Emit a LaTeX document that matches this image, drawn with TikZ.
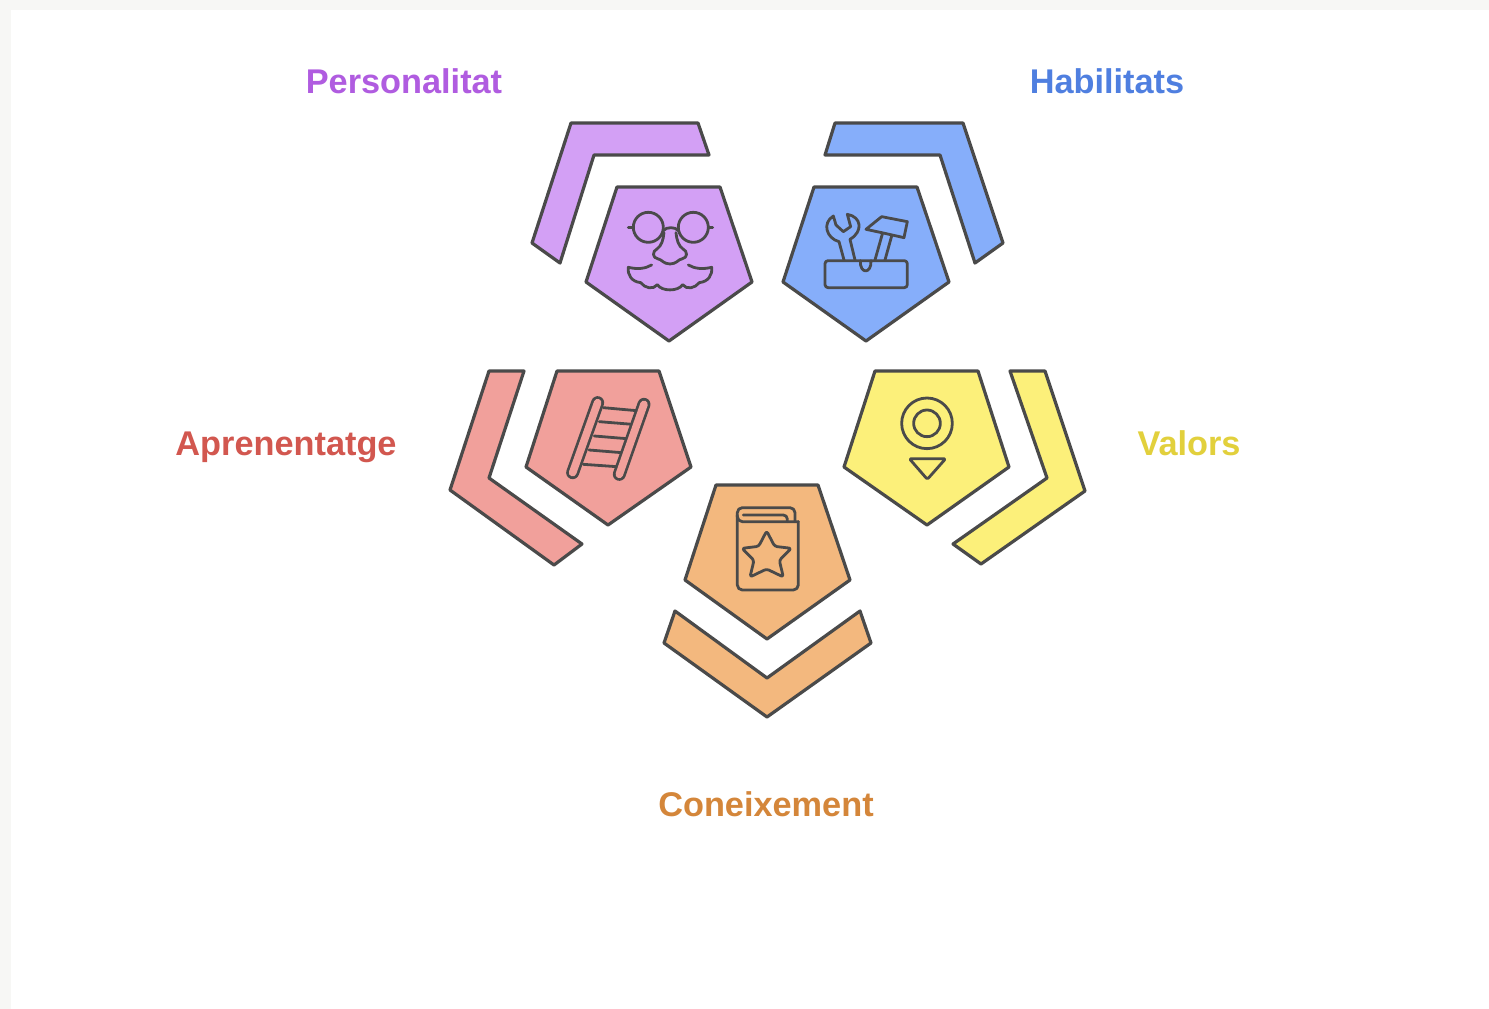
\documentclass[tikz,border=0pt]{standalone}
\usepackage{fontspec}
\setmainfont{Liberation Sans}
\definecolor{ink}{HTML}{4A4A4A}
\definecolor{page}{HTML}{F7F7F5}
\definecolor{cP}{HTML}{D3A0F5}
\definecolor{cB}{HTML}{86AEFA}
\definecolor{cR}{HTML}{F1A09B}
\definecolor{cY}{HTML}{FCF07A}
\definecolor{cO}{HTML}{F3B87E}
\definecolor{tP}{HTML}{B05CE0}
\definecolor{tB}{HTML}{4F7FE0}
\definecolor{tR}{HTML}{D2574F}
\definecolor{tY}{HTML}{E2D03C}
\definecolor{tO}{HTML}{D4863A}
\tikzset{
 shapeline/.style={draw=ink,line width=3.2pt,line join=round},
 iconline/.style={draw=ink,line width=2.8pt,line join=round,line cap=round},
 title/.style={font=\fontsize{34.3}{36}\selectfont\bfseries,inner sep=0pt,anchor=base}
}
\begin{document}
\begin{tikzpicture}[x=1pt,y=-1pt]
\useasboundingbox (0,0) rectangle (1489,1009);
\fill[page] (0,0) rectangle (1489,1009);
\fill[white] (11,10) rectangle (1489,1009);
% purple
\filldraw[shapeline,fill=cP] (571,123)--(698,123)--(709,155)--(594,155)--(560,263)--(532,243)--cycle;
\filldraw[shapeline,fill=cP] (617,187)--(720,187)--(752,282)--(669,341)--(586,282)--cycle;
% blue
\filldraw[shapeline,fill=cB] (835,123)--(963,123)--(1003,243)--(975,263)--(940,155)--(825,155)--cycle;
\filldraw[shapeline,fill=cB] (814,187)--(917,187)--(949,282)--(866,341)--(783,282)--cycle;
% red
\filldraw[shapeline,fill=cR] (489,371)--(524,371)--(489,478)--(582,544)--(554,565)--(450,490)--cycle;
\filldraw[shapeline,fill=cR] (557,371)--(659,371)--(691,467)--(608,525)--(526,467)--cycle;
% yellow
\filldraw[shapeline,fill=cY] (1010,371)--(1045,371)--(1085,491)--(981,564)--(953,544)--(1047,478)--cycle;
\filldraw[shapeline,fill=cY] (875,371)--(978,371)--(1009,467)--(927,525)--(844,467)--cycle;
% orange
\filldraw[shapeline,fill=cO] (675,611)--(767,678)--(860,611)--(871,643)--(767,717)--(664,643)--cycle;
\filldraw[shapeline,fill=cO] (716,485)--(818,485)--(850,580)--(767,639)--(685,580)--cycle;
% glasses icon
\begin{scope}[shift={(520,110)},x=0.3333pt,y=-0.3333pt]
\draw[iconline] (385,352) circle[radius=45pt/3];
\draw[iconline] (520,352) circle[radius=45pt/3];
\draw[iconline] (325,352)--(340,352);
\draw[iconline] (565,352)--(578,352);
\draw[iconline] (430,362) .. controls (438,350) and (467,350) .. (475,362);
\draw[iconline] (432,368) .. controls (430,390) and (424,408) .. (412,416) .. controls (396,424) and (396,444) .. (415,447) .. controls (425,448) and (430,462) .. (450,462) .. controls (470,462) and (475,448) .. (485,447) .. controls (504,444) and (504,424) .. (488,416) .. controls (476,408) and (470,390) .. (468,368);
\draw[iconline] (395,465) .. controls (375,477) and (350,478) .. (325,472) .. controls (322,495) and (335,515) .. (362,518) .. controls (375,535) and (400,540) .. (412,524) .. controls (425,545) and (475,545) .. (488,524) .. controls (500,540) and (525,535) .. (538,518) .. controls (565,515) and (578,495) .. (575,472) .. controls (550,478) and (525,477) .. (505,465);
\end{scope}
% toolbox icon
\begin{scope}[shift={(770,110)},x=0.3333pt,y=-0.3333pt]
\draw[iconline,rounded corners=3pt] (165,452) rectangle (412,533);
\draw[iconline] (271,452) .. controls (269,493) and (305,493) .. (303,452);
\draw[iconline] (315,450)--(337,372);
\draw[iconline] (345,450)--(365,378);
\draw[iconline] (288,358)--(335,320)--(412,335)--(402,383)--(335,368)--cycle;
\draw[iconline] (222,450)--(207,395) .. controls (170,385) and (155,340) .. (190,318) -- (198,345) -- (220,365) -- (242,350) -- (232,313) .. controls (275,320) and (280,365) .. (240,388) -- (255,450);
\end{scope}
% ladder icon
\begin{scope}[shift={(440,360)},x=0.3333pt,y=-0.3333pt]
\draw[iconline] (490,143)--(590,152);
\draw[iconline] (478,185)--(577,193);
\draw[iconline] (463,228)--(560,236);
\draw[iconline] (447,270)--(545,278);
\draw[iconline] (430,313)--(530,320);
\draw[line width=13pt,line cap=round,ink] (473,128)--(398,338);
\draw[line width=7.6pt,line cap=round,cR] (473,128)--(398,338);
\draw[line width=13pt,line cap=round,ink] (612,133)--(538,343);
\draw[line width=7.6pt,line cap=round,cR] (612,133)--(538,343);
\end{scope}
% target icon
\begin{scope}[shift={(830,360)},x=0.3333pt,y=-0.3333pt]
\draw[iconline] (291,190) circle[radius=76pt/3];
\draw[iconline] (291,190) circle[radius=40pt/3];
\draw[iconline,rounded corners=1.5pt] (238,296)--(347,296)--(292,358)--cycle;
\end{scope}
% book icon
\begin{scope}[shift={(650,475)},x=0.3333pt,y=-0.3333pt]
\draw[iconline,rounded corners=5pt] (445,140)--(445,345)--(262,345)--(262,98)--(435,98)--(435,140);
\draw[iconline,rounded corners=5pt] (262,120)--(262,140)--(445,140);
\draw[iconline,rounded corners=4pt] (280,120)--(412,120)--(412,140);
\draw[iconline,rounded corners=2.5pt] (350,168)--(374,214)--(424,220)--(388,256)--(400,306)--(350,282)--(300,306)--(312,256)--(276,220)--(326,214)--cycle;
\end{scope}
% labels
\node[title,text=tP] (personalitat) at (404,93) {Personalitat};
\node[title,text=tB] (habilitats) at (1107,93) {Habilitats};
\node[title,text=tR] (aprenentatge) at (286,455) {Aprenentatge};
\node[title,text=tY] (valors) at (1189,455) {Valors};
\node[title,text=tO] (coneixement) at (766,816) {Coneixement};
\end{tikzpicture}
\end{document}
